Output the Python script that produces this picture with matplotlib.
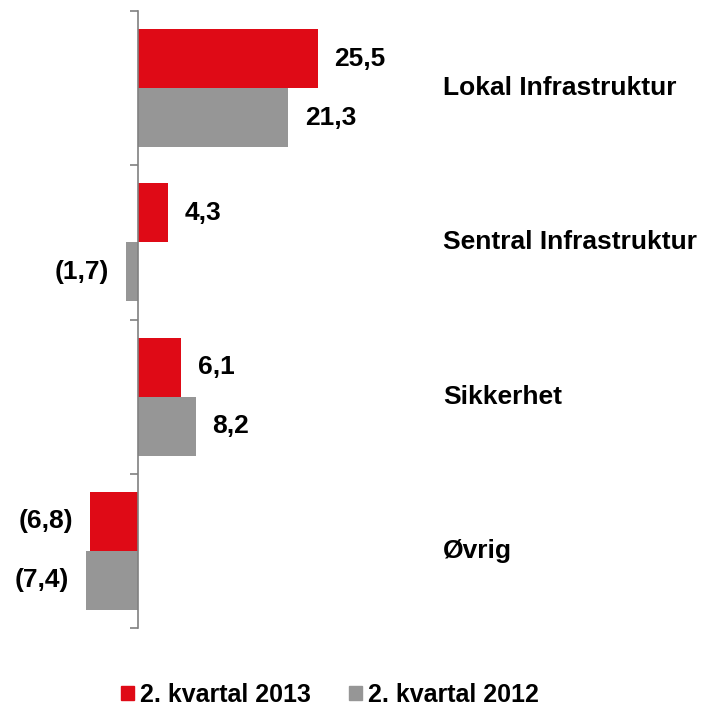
import numpy as np
import matplotlib.pyplot as plt
from matplotlib.patches import Patch

# data
categories = ['Lokal Infrastruktur', 'Sentral Infrastruktur', 'Sikkerhet', 'Øvrig']
q2_2013 = [25.5, 4.3, 6.1, -6.8]
q2_2012 = [21.3, -1.7, 8.2, -7.4]
series_names = ['2. kvartal 2013', '2. kvartal 2012']

red = '#DF0A16'
grey = '#969696'

plt.rcParams['font.family'] = ['Liberation Sans', 'DejaVu Sans']
plt.rcParams['font.weight'] = 'bold'

fig = plt.figure(figsize=(7.03, 7.07), dpi=100)
# axes spans whole width; x=0 sits at pixel 138, about 7.05 px per unit
px_per_unit = 7.05
ax = fig.add_axes([0, 79 / 707, 1, 617 / 707])
ax.set_xlim(-138 / px_per_unit, (703 - 138) / px_per_unit)
ax.set_ylim(len(categories) - 0.5, -0.5)

y = np.arange(len(categories))
h = 0.383
ax.barh(y - h / 2, q2_2013, height=h, color=red)
ax.barh(y + h / 2, q2_2012, height=h, color=grey)

def fmt(v):
    s = f'{abs(v):.1f}'.replace('.', ',')
    return f'({s})' if v < 0 else s

for vals, off in [(q2_2013, -h / 2), (q2_2012, h / 2)]:
    for i, v in enumerate(vals):
        ax.annotate(fmt(v), (v, i + off), xytext=(12 if v >= 0 else -12, 0),
                    textcoords='offset points', ha='left' if v >= 0 else 'right',
                    va='center', fontsize=19, fontweight='bold')

for i, c in enumerate(categories):
    ax.text(443 / 703, 1 - (i + 0.5) / len(categories), c, transform=ax.transAxes,
            ha='left', va='center', fontsize=19, fontweight='bold')

for s in ['top', 'right', 'bottom']:
    ax.spines[s].set_visible(False)
ax.spines['left'].set_position(('data', 0))
ax.spines['left'].set_color('#808080')
ax.spines['left'].set_linewidth(1.2)
ax.set_xticks([])
ax.set_yticks(np.arange(len(categories) + 1) - 0.5)
ax.set_yticklabels([])
ax.tick_params(axis='y', length=6, width=1.2, color='#808080', direction='out')

handles = [Patch(color=red), Patch(color=grey)]
fig.legend(handles, series_names, loc='center', bbox_to_anchor=(330 / 703, 1 - 695 / 707),
           ncol=2, frameon=False, handlelength=0.52, handleheight=0.52,
           handletextpad=0.25, columnspacing=1.5, prop={'weight': 'bold', 'size': 18})

fig.savefig('out.png', dpi=100)
